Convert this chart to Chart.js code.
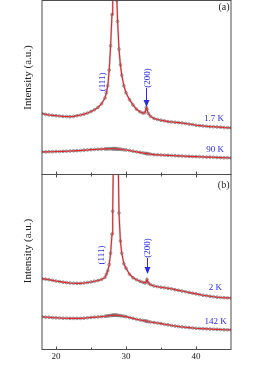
<!DOCTYPE html>
<html><head><meta charset="utf-8">
<script src="https://cdn.jsdelivr.net/npm/chart.js@4/dist/chart.umd.min.js"></script>
<style>
html,body{margin:0;padding:0;background:#fff;width:264px;height:368px;overflow:hidden}
#ca{position:absolute;left:0;top:0}
#cb{position:absolute;left:0;top:174px}
</style></head><body>
<canvas id="ca" width="264" height="176"></canvas>
<canvas id="cb" width="264" height="194"></canvas>
<script>
// 2-theta (degrees)
const twoTheta = [18,18.5,19,19.5,20,20.5,21,21.5,22,22.5,23,23.5,24,24.5,25,25.5,26,26.5,27,
  27.2,27.4,27.6,27.8,28.0,28.1,28.2,28.3,28.4,28.5,28.6,28.7,28.8,29.0,29.2,29.4,29.7,30.0,
  30.5,31,31.5,32,
  32.4,32.7,32.9,33.0,33.2,33.5,
  34,34.5,35,35.5,36,36.5,37,37.5,38,38.5,39,39.5,40,40.5,41,41.5,42,42.5,43,43.5,44,44.5,45];
// panel (a)
const intensity1p7K = [35,34.6,34.2,34,33.8,33.6,33.4,33.3,33.2,33.4,33.8,34.2,34.7,35.3,36.2,37.2,38.6,40.6,44,
  47,51,60,74,92,120,170,220,230,190,140,100,88,72,63,57,51,47,
  43,40,37.5,36,
  35.3,35.5,38.5,37.5,35,33.4,
  32.2,31.6,31.2,30.8,30.4,30.2,30,29.8,29.6,29.3,29,28.7,28.3,28.1,27.9,27.7,27.5,27.4,27.3,27.2,27,26.9,26.8];
const intensity90K = [13,13,13.1,13.1,13.2,13.2,13.3,13.4,13.5,13.6,13.7,13.8,14,14.1,14.3,14.4,14.5,14.6,14.7,
  14.7,14.7,14.8,14.8,14.8,14.8,14.8,14.8,14.8,14.8,14.7,14.7,14.6,14.6,14.5,14.4,14.2,14.1,
  13.8,13.4,13,12.7,
  12.4,12.2,12,12,11.9,11.7,
  11.4,11.3,11.2,11.1,11,10.9,10.8,10.7,10.6,10.5,10.4,10.3,10.3,10.2,10.1,10,10,9.9,9.8,9.7,9.6,9.6,9.5];
// panel (b)
const intensity2K = [40.5,40.2,39.9,39.5,39.1,38.8,38.5,38.2,38,37.9,37.8,37.8,38,38.3,38.6,39,39.4,40,41.2,
  43,45,48.5,55,66,79,110,160,210,240,230,180,130,78,62,55,49,46.5,
  43,41,39.9,39,
  38.4,38,38.6,40,38,37,
  36.3,35.9,35.6,35.3,35,34.7,34.2,33.8,33.4,33,32.6,32.2,31.8,31.4,31,30.7,30.4,30.1,29.9,29.7,29.6,29.5,29.4];
const intensity142K = [18.7,18.5,18.4,18.2,18.1,18,17.9,17.9,17.8,17.8,17.8,17.8,17.9,18.1,18.3,18.5,18.6,18.8,19,
  19.1,19.2,19.3,19.4,19.5,19.6,19.6,19.6,19.6,19.6,19.6,19.5,19.5,19.4,19.3,19.2,19,18.8,
  18.3,17.8,17.3,16.9,
  16.6,16.4,16.2,16.1,15.9,15.7,
  15.4,15.1,14.8,14.4,14.1,13.7,13.4,13.1,12.9,12.7,12.5,12.3,12.1,12,11.9,11.8,11.7,11.6,11.5,11.4,11.3,11.25,11.2];
const xMajorTicks = [20,30,40];
const xMinorTicks = [25,35];
const yTitle = 'Intensity (a.u.)';
const panelLetters = ['(a)','(b)'];
const tempLabelsA = ['1.7 K','90 K'];
const tempLabelsB = ['2 K','142 K'];
const peakLabels = ['(111)','(200)'];

const SERIF = '"Liberation Serif","DejaVu Serif",serif';
const BLUE = '#2a2ae8';
const RED = '#e3262c';

function pts(ys){ return twoTheta.map((x,i)=>({x:x,y:ys[i]})); }
function sets(a,b){
  const gray = ys => ({data:pts(ys), showLine:true, borderColor:'rgba(140,140,140,0.45)', borderWidth:2,
    pointRadius:1.4, pointBorderWidth:0.8, pointBorderColor:'rgba(110,110,110,0.8)', pointBackgroundColor:'rgba(200,200,200,0.3)', order:2});
  const red = ys => ({data:pts(ys), showLine:true, borderColor:RED, borderWidth:1.1, pointRadius:0, order:1});
  return [red(a), red(b), gray(a), gray(b)];
}

const framePlugin = {
  id:'frameTicks',
  afterDatasetsDraw(chart, args, o){
    const ctx = chart.ctx, a = chart.chartArea, x = chart.scales.x;
    ctx.save();
    ctx.strokeStyle = '#4d4d4d'; ctx.lineWidth = 1;
    ctx.strokeRect(a.left, a.top, a.right-a.left, a.bottom-a.top);
    const dt = (vals,len) => vals.forEach(v=>{
      const px = Math.round(x.getPixelForValue(v))+0.5;
      if (o.bottom){ ctx.beginPath(); ctx.moveTo(px,a.bottom); ctx.lineTo(px,a.bottom-len); ctx.stroke(); }
      if (o.top){ ctx.beginPath(); ctx.moveTo(px,a.top); ctx.lineTo(px,a.top+len); ctx.stroke(); }
    });
    dt(xMajorTicks,3); dt(xMinorTicks,2);
    ctx.restore();
  }
};

const textPlugin = {
  id:'texts',
  afterDraw(chart, args, o){
    const ctx = chart.ctx, a = chart.chartArea, x = chart.scales.x, y = chart.scales.y;
    ctx.save();
    ctx.fillStyle = '#222';
    ctx.font = '11px '+SERIF;
    ctx.textAlign='center'; ctx.textBaseline='middle';
    ctx.save(); ctx.translate(28,(a.top+a.bottom)/2+o.titleShift); ctx.rotate(-Math.PI/2); ctx.fillText(yTitle,0,0); ctx.restore();
    ctx.font = '10px '+SERIF; ctx.textAlign='right';
    ctx.fillText(o.letter, a.right-1.5, a.top+o.letterDy);
    ctx.fillStyle = BLUE; ctx.font = '9px '+SERIF; ctx.textAlign='right';
    o.temps.forEach(t=>ctx.fillText(t.text, x.getPixelForValue(t.x), y.getPixelForValue(t.y)));
    ctx.textAlign='center';
    o.peaks.forEach(p=>{
      ctx.save(); ctx.translate(x.getPixelForValue(p.x)+(p.dx||0), y.getPixelForValue(p.y)); ctx.rotate(-Math.PI/2);
      ctx.fillText(p.text,0,0); ctx.restore();
    });
    const ar = o.arrow, ax = Math.round(x.getPixelForValue(ar.x))+0.5;
    const yT = y.getPixelForValue(ar.top), yB = y.getPixelForValue(ar.base), yP = y.getPixelForValue(ar.tip);
    ctx.strokeStyle = BLUE; ctx.lineWidth = 1;
    ctx.beginPath(); ctx.moveTo(ax,yT); ctx.lineTo(ax,yB); ctx.stroke();
    ctx.beginPath(); ctx.moveTo(ax-3,yB); ctx.lineTo(ax+3,yB); ctx.lineTo(ax,yP); ctx.closePath(); ctx.fill();
    ctx.restore();
  }
};

function makeChart(id, a, b, showXLabels, padTop, padBottom, frameOpts, textOpts){
  return new Chart(document.getElementById(id), {
    type:'scatter',
    data:{datasets:sets(a,b)},
    plugins:[framePlugin, textPlugin],
    options:{
      responsive:false, animation:false, devicePixelRatio:1,
      layout:{autoPadding:false, padding:{left:42,right:33,top:padTop,bottom:padBottom}},
      plugins:{legend:{display:false}, tooltip:{enabled:false}, frameTicks:frameOpts, texts:textOpts},
      elements:{line:{tension:0}},
      scales:{
        x:{type:'linear', min:18, max:45, display:showXLabels,
          afterBuildTicks:s=>{ s.ticks = xMajorTicks.map(v=>({value:v})); },
          afterFit:s=>{ if (showXLabels) s.height = 18.5; },
          grid:{display:false, drawTicks:false}, border:{display:false},
          ticks:{autoSkip:false, maxRotation:0, padding:2, color:'#222', font:{family:SERIF, size:9}}},
        y:{type:'linear', min:0, max:100, display:false}
      }
    }
  });
}

makeChart('ca', intensity1p7K, intensity90K, false, 0.5, 1.5, {bottom:true, top:false}, {
  titleShift:-10, letter:panelLetters[0], letterDy:7,
  temps:[{text:tempLabelsA[0], x:44.0, y:32.2},{text:tempLabelsA[1], x:44.0, y:14.4}],
  peaks:[{text:peakLabels[0], x:26.6, y:53.2},{text:peakLabels[1], x:32.9, dx:1, y:55.5}],
  arrow:{x:32.9, top:49.7, base:42.8, tip:38.8}
});
makeChart('cb', intensity2K, intensity142K, true, 0.5, 0, {bottom:true, top:true}, {
  titleShift:-11, letter:panelLetters[1], letterDy:11,
  temps:[{text:tempLabelsB[0], x:43.7, y:35.1},{text:tempLabelsB[1], x:44.4, y:15.7}],
  peaks:[{text:peakLabels[0], x:26.5, y:54},{text:peakLabels[1], x:33.0, dx:1, y:58}],
  arrow:{x:33.0, top:52.3, base:47.1, tip:43.1}
});
</script>
</body></html>
